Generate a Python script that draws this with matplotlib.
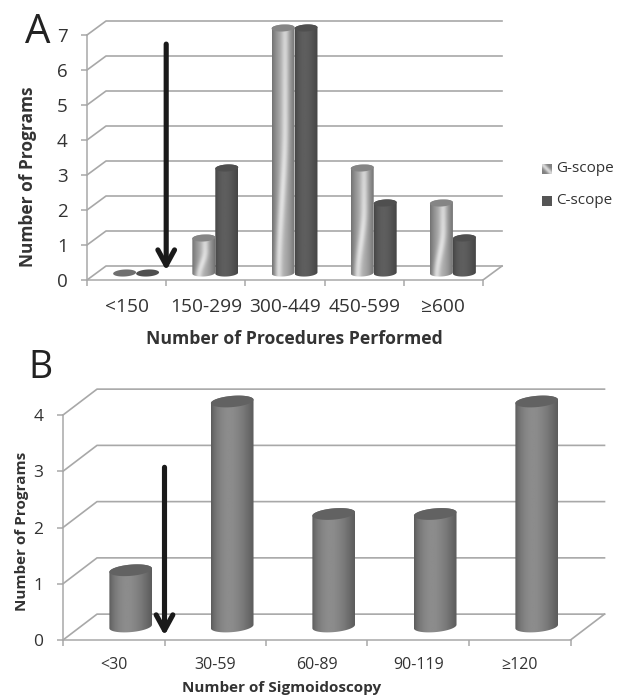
import numpy as np
import matplotlib
matplotlib.use('Agg')
import matplotlib.pyplot as plt
from matplotlib.path import Path
from matplotlib.patches import PathPatch

plt.rcParams['font.family'] = ['Open Sans', 'DejaVu Sans']

# panel A data
proc_labels = ['<150', '150-299', '300-449', '450-599', '≥600']
g_scope = [0, 1, 7, 3, 2]
c_scope = [0, 3, 7, 2, 1]

# panel B data
sig_labels = ['<30', '30-59', '60-89', '90-119', '≥120']
sig_programs = [1, 4, 2, 2, 4]

W, H = 626, 700
TEXT = '#333333'
GRID = '#a8a8a8'

fig = plt.figure(figsize=(W / 100, H / 100), dpi=100)


def make_axes(left, bottom_y, step_x, step_y, n_y, depth_x, depth_y):
    # sizes in pixels of the reference, room left over for the 3d back wall
    xmax = 5 + depth_x + 0.02
    ymax = n_y + depth_y + 0.1
    ax = fig.add_axes([left / W, (H - bottom_y) / H,
                       xmax * step_x / W, ymax * step_y / H])
    ax.patch.set_alpha(0)
    ax.set_xlim(0, xmax)
    ax.set_ylim(0, ymax)
    for s in ['top', 'right']:
        ax.spines[s].set_visible(False)
    ax.spines['left'].set_bounds(0, n_y)
    ax.spines['bottom'].set_bounds(0, 5)
    ax.spines['left'].set_color(GRID)
    ax.spines['bottom'].set_color(GRID)
    ax.spines['left'].set_linewidth(1.1)
    ax.spines['bottom'].set_linewidth(1.1)
    ax.set_yticks(range(n_y + 1))
    ax.set_xticks(range(6))
    ax.set_xticklabels([])
    ax.tick_params(axis='both', which='major', color=GRID, width=1.1, length=4,
                   labelcolor=TEXT)
    ax.tick_params(axis='y', pad=10)
    # back wall, side wall and floor
    for v in range(n_y + 1):
        ax.plot([0, depth_x, 5 + depth_x], [v, v + depth_y, v + depth_y],
                color=GRID, lw=1.2, zorder=1, clip_on=False)
    ax.plot([5, 5 + depth_x], [0, depth_y], color=GRID, lw=1.2, zorder=1)
    return ax


def g_shade(nx=60, ny=200):
    # metallic look of the G-scope bars
    u = np.linspace(0, 1, nx)
    t = np.linspace(0, 1, ny)
    uu, tt = np.meshgrid(u, t)
    s = np.clip(tt / 0.6, 0, 1)
    c = 0.28 + 0.3 * s * s * (3 - 2 * s)
    base = 0.45 + 0.22 * np.sin(np.pi * uu)
    streak = (0.24 - 0.08 * tt) * np.exp(-((uu - c) / 0.16) ** 2)
    return np.clip(base + streak, 0, 0.92)


def flat_shade(edge, mid, nx=60):
    u = np.linspace(0, 1, nx)
    return (edge + (mid - edge) * np.sin(np.pi * u ** 0.8)).reshape(1, -1)


def cylinder(ax, xc, width, value, y0, rx, ry, tilt, shade, top_color):
    th = np.linspace(0, np.pi, 40)
    xs = xc + rx * np.cos(th)
    lift = tilt * rx * np.cos(th)
    # outline: top back edge, then base front edge
    px = np.r_[xs, xs[::-1]]
    py = np.r_[y0 + value + ry * np.sin(th) + lift,
               (y0 - ry * np.sin(th) + lift)[::-1]]
    if value > 0:
        body = PathPatch(Path(np.c_[px, py]), fc='none', ec='none', transform=ax.transData)
        ax.add_patch(body)
        im = ax.imshow(shade, extent=(xc - rx, xc + rx, y0 - ry - abs(tilt * rx),
                                      y0 + value + ry + abs(tilt * rx)),
                       origin='lower', aspect='auto', cmap='gray', vmin=0, vmax=1,
                       zorder=3, interpolation='bilinear')
        im.set_clip_path(body)
    th2 = np.linspace(0, 2 * np.pi, 60)
    ax.fill(xc + rx * np.cos(th2),
            y0 + value + ry * np.sin(th2) + tilt * rx * np.cos(th2),
            color=top_color, zorder=4, lw=0)


def arrow(ax, x, y_from, y_to):
    ax.annotate('', xy=(x, y_to), xytext=(x, y_from),
                arrowprops=dict(arrowstyle='->,head_length=1.1,head_width=0.6',
                                color='#1a1a1a', lw=3.7, shrinkA=0, shrinkB=0),
                zorder=6)


# panel A
ax1 = make_axes(87, 280, 79.2, 35, 7, 0.24, 0.4)
ax1.set_yticklabels(range(8), fontsize=13.5)
bw = 0.29
shade_c = flat_shade(0.27, 0.37)
for i in range(5):
    cx = i + 0.5 + 0.12
    cylinder(ax1, cx - bw / 2, bw, g_scope[i], 0.2, bw / 2, 0.1, 0.12, g_shade(),
             '#858585' if g_scope[i] else '#6f6f6f')
    cylinder(ax1, cx + bw / 2, bw, c_scope[i], 0.2, bw / 2, 0.1, 0.12, shade_c, '#4f4f4f')
for i, lab in enumerate(proc_labels):
    ax1.text(i + 0.5, -0.78, lab, ha='center', va='center', fontsize=13.8, color=TEXT)
ax1.text(2.62, -1.686, 'Number of Procedures Performed', ha='center', va='center',
         fontsize=12.7, fontweight='bold', color=TEXT)
ax1.set_ylabel('Number of Programs', fontsize=12.5, fontweight='bold', color=TEXT,
               va='center')
ax1.yaxis.set_label_coords(-0.1416, 0.393)
arrow(ax1, 1, 6.74, 0.27)

# legend
swatch = fig.add_axes([542 / W, (H - 174) / H, 10 / W, 10 / H])
uu, vv = np.meshgrid(np.linspace(0, 1, 20), np.linspace(0, 1, 20))
swatch.imshow(0.5 + 0.35 * np.exp(-((uu + vv - 1) / 0.35) ** 2), cmap='gray', vmin=0, vmax=1,
              aspect='auto', origin='lower')
swatch.axis('off')
swatch2 = fig.add_axes([542 / W, (H - 206) / H, 10 / W, 10 / H])
swatch2.set_facecolor('#555555')
swatch2.set_xticks([])
swatch2.set_yticks([])
for s in swatch2.spines.values():
    s.set_visible(False)
fig.text(556 / W, 1 - 168.5 / H, 'G-scope', fontsize=11, color=TEXT, va='center')
fig.text(556 / W, 1 - 201 / H, 'C-scope', fontsize=11, color=TEXT, va='center')

# panel B
ax2 = make_axes(63, 640, 101.5, 56.25, 4, 0.335, 0.46)
ax2.set_yticklabels(range(5), fontsize=12.5)
shade_b = flat_shade(0.36, 0.55)
for i, v in enumerate(sig_programs):
    cylinder(ax2, i + 0.5 + 0.167, 0.42, v, 0.24, 0.21, 0.1, 0.15, shade_b, '#626262')
for i, lab in enumerate(sig_labels):
    ax2.text(i + 0.5, -0.444, lab, ha='center', va='center', fontsize=11.5, color=TEXT)
ax2.text(2.15, -0.853, 'Number of Sigmoidoscopy', ha='center', va='center',
         fontsize=11, fontweight='bold', color=TEXT)
ax2.set_ylabel('Number of Programs', fontsize=11, fontweight='bold', color=TEXT,
               va='center')
ax2.yaxis.set_label_coords(-0.0755, 0.425)
arrow(ax2, 1, 3.07, 0.08)

# panel letters
fig.text(25 / W, 1 - 43 / H, 'A', fontsize=29, color='#222222', va='baseline')
fig.text(28 / W, 1 - 378 / H, 'B', fontsize=27, color='#222222', va='baseline')

fig.savefig('out.png', dpi=100)
